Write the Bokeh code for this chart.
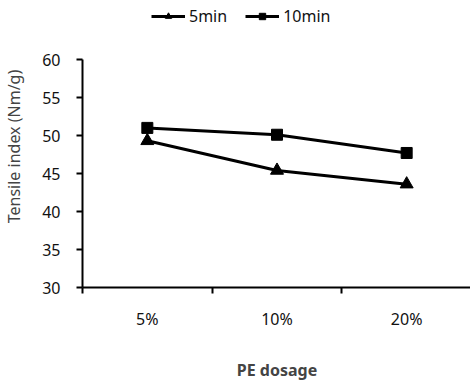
from bokeh.plotting import figure
from bokeh.models import FixedTicker, Range1d, Legend, LegendItem
from bokeh.embed import file_html
from bokeh.resources import INLINE

categories = ["5%", "10%", "20%"]
series_names = ["5min", "10min"]
values_5min = [49.3, 45.4, 43.6]
values_10min = [51.0, 50.1, 47.7]
y_ticks = [30, 35, 40, 45, 50, 55, 60]

FONT = "Noto Sans"
xs = [i + 0.5 for i in range(len(categories))]

# extra room above 60 holds the legend; axis line stops at 60 via bounds
p = figure(output_backend="svg", toolbar_location=None,
           frame_width=389, frame_height=282,
           min_border_left=81, min_border_top=5, min_border_bottom=89, min_border_right=0,
           x_range=Range1d(0, len(categories)), y_range=Range1d(30, 30 + 282 / 7.6))
p.outline_line_color = None
p.grid.visible = False
p.background_fill_color = "white"
p.border_fill_color = "white"

r1l = p.line(xs, values_5min, line_color="black", line_width=3)
r1m = p.scatter(xs, values_5min, marker="triangle", size=13, color="black")
r2l = p.line(xs, values_10min, line_color="black", line_width=3)
r2m = p.scatter(xs, values_10min, marker="square", size=11, color="black")

legend = Legend(items=[LegendItem(label=series_names[0], renderers=[r1l, r1m]),
                       LegendItem(label=series_names[1], renderers=[r2l, r2m])],
                location=(69, 260), orientation="horizontal")
legend.border_line_color = None
legend.background_fill_alpha = 0
legend.padding = 0
legend.margin = 0
legend.spacing = 18
legend.glyph_width = 34
legend.glyph_height = 16
legend.label_height = 16
legend.label_standoff = 4
legend.label_text_font = FONT
legend.label_text_font_size = "16px"
legend.label_text_color = "#111111"
p.add_layout(legend, "center")

# x axis
xa = p.xaxis[0]
xa.ticker = FixedTicker(ticks=xs, minor_ticks=list(range(len(categories) + 1)))
xa.major_label_overrides = {x: c for x, c in zip(xs, categories)}
xa.major_tick_line_color = None
xa.minor_tick_in = 0
xa.minor_tick_out = 6
xa.minor_tick_line_width = 2
xa.minor_tick_line_color = "black"
xa.axis_line_width = 2
xa.axis_line_color = "black"
xa.major_label_standoff = 14
xa.major_label_text_font = FONT
xa.major_label_text_font_size = "16px"
xa.major_label_text_color = "#111111"
xa.axis_label = "PE dosage"
xa.axis_label_text_font = FONT
xa.axis_label_text_font_style = "bold"
xa.axis_label_text_font_size = "16px"
xa.axis_label_standoff = 26

# y axis
ya = p.yaxis[0]
ya.ticker = FixedTicker(ticks=y_ticks)
ya.bounds = (y_ticks[0], y_ticks[-1])
ya.minor_tick_line_color = None
ya.major_tick_in = 0
ya.major_tick_out = 6
ya.major_tick_line_width = 2
ya.axis_line_width = 2
ya.axis_line_color = "black"
ya.major_label_standoff = 16
ya.major_label_text_font = FONT
ya.major_label_text_font_size = "16px"
ya.major_label_text_color = "#111111"
ya.axis_label = "Tensile index (Nm/g)"
ya.axis_label_text_font = FONT
ya.axis_label_text_font_style = "normal"
ya.axis_label_text_font_size = "16px"
ya.axis_label_standoff = 14

open("out.html", "w").write(file_html(p, INLINE))
